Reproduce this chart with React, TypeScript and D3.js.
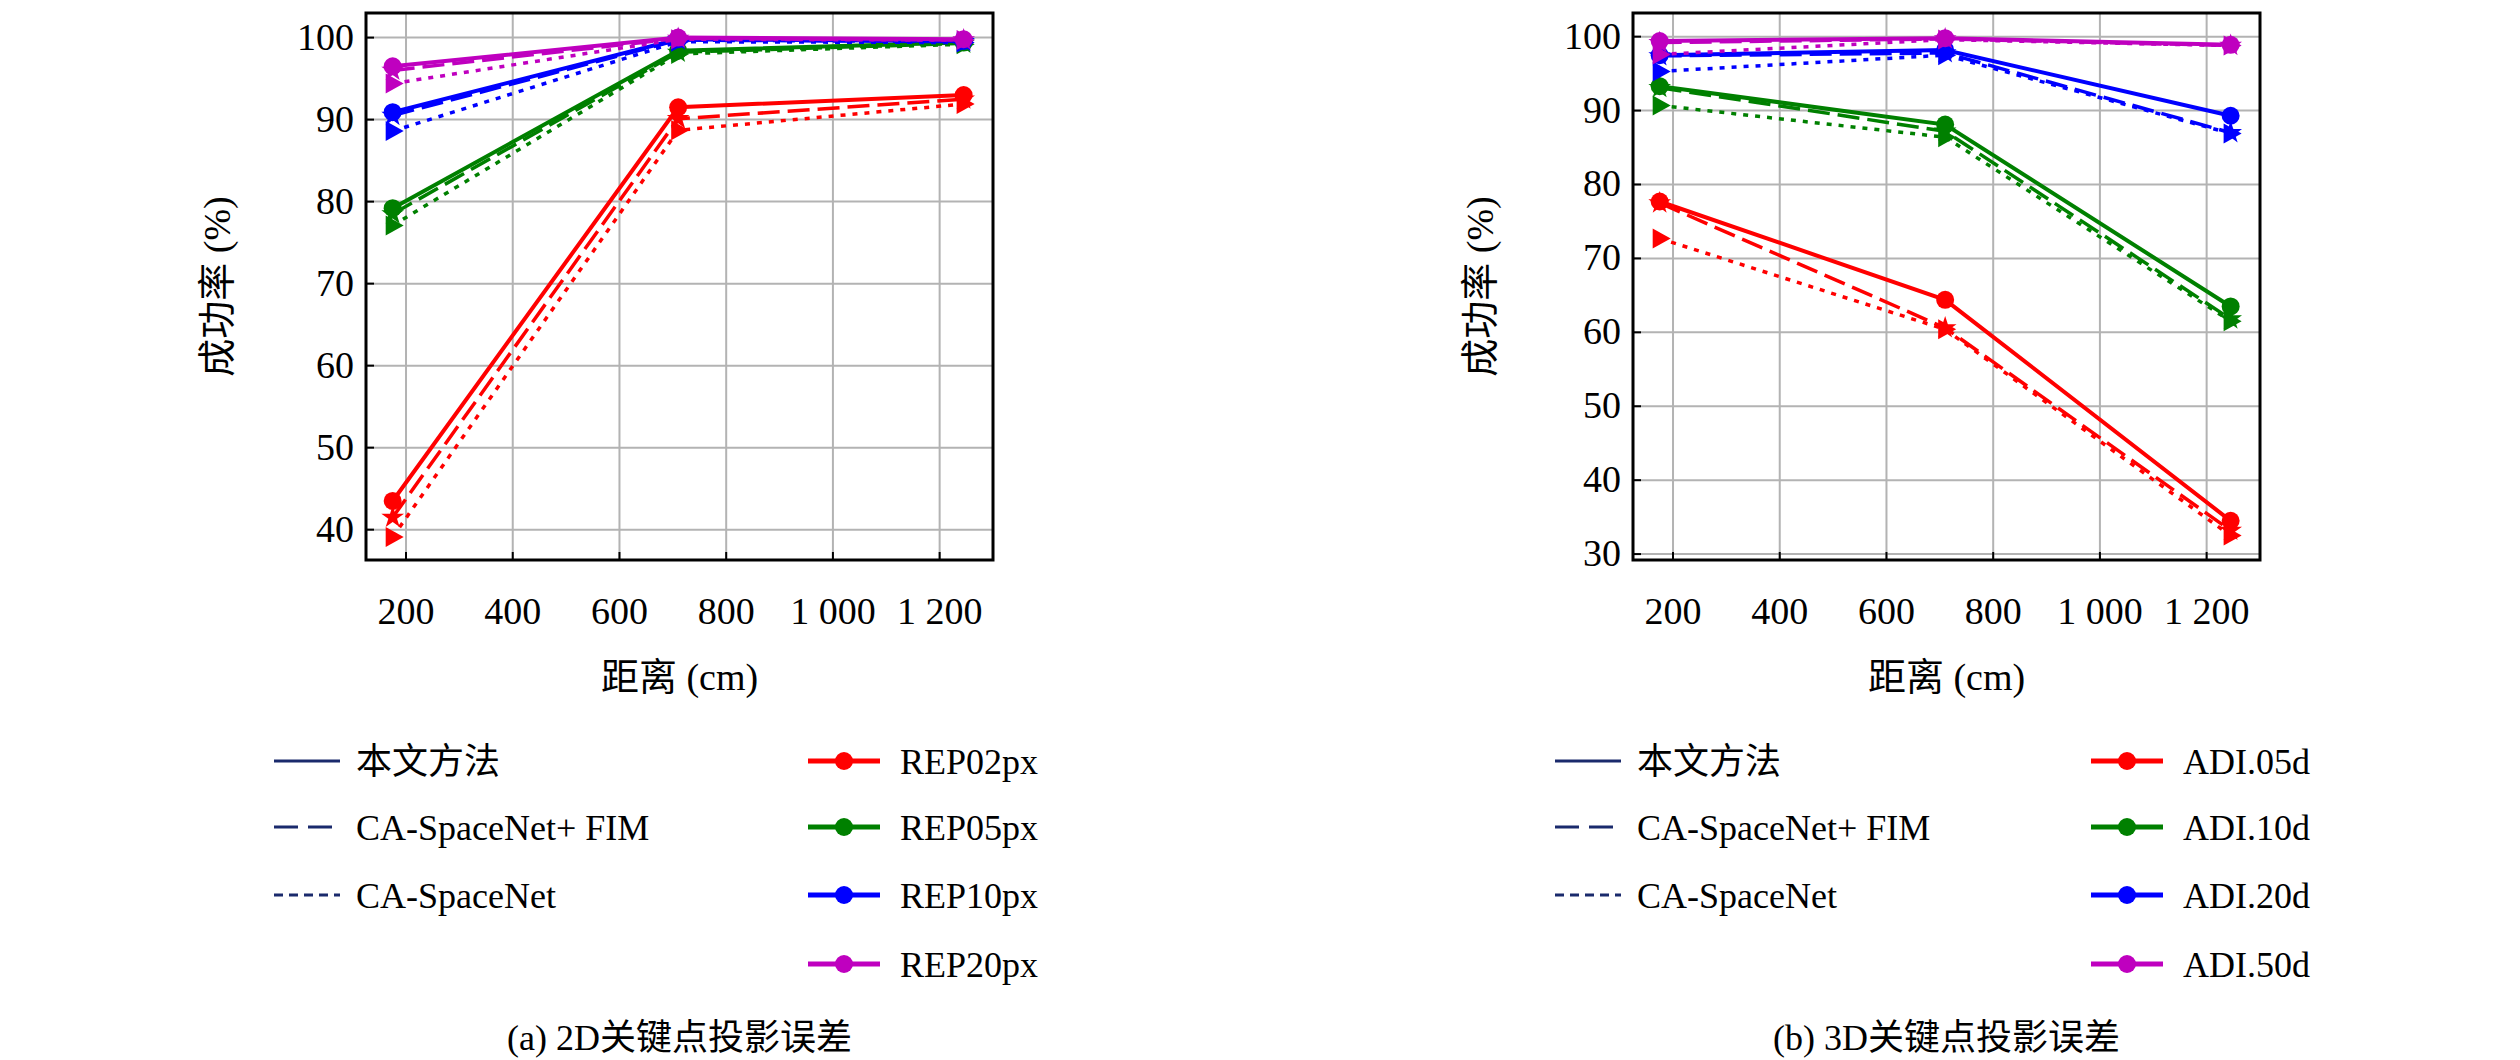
import * as d3 from "d3";

const distances = [175, 710, 1245];
const xTicks = [200, 400, 600, 800, 1000, 1200];

// left: 2D keypoint projection error
const rep02 = { solid: [43.5, 91.5, 93.0], dashed: [41.5, 90.1, 92.5], dotted: [39.1, 88.7, 91.9] };
const rep05 = { solid: [79.2, 98.4, 99.4], dashed: [78.5, 98.2, 99.3], dotted: [77.1, 98.0, 99.2] };
const rep10 = { solid: [90.9, 99.8, 99.6], dashed: [90.5, 99.7, 99.5], dotted: [88.6, 99.5, 99.4] };
const rep20 = { solid: [96.5, 100, 99.8], dashed: [96.0, 99.9, 99.7], dotted: [94.4, 99.8, 99.7] };

// right: 3D keypoint projection error
const adi05 = { solid: [77.7, 64.4, 34.5], dashed: [77.5, 60.6, 33.2], dotted: [72.7, 60.4, 32.5] };
const adi10 = { solid: [93.3, 88.1, 63.5], dashed: [93.1, 87.2, 61.8], dotted: [90.7, 86.4, 61.5] };
const adi20 = { solid: [97.5, 98.2, 89.3], dashed: [97.4, 97.8, 87.0], dotted: [95.3, 97.5, 86.9] };
const adi50 = { solid: [99.4, 99.8, 98.9], dashed: [99.2, 99.7, 98.8], dotted: [97.6, 99.6, 98.8] };

const methodNames = ["本文方法", "CA-SpaceNet+ FIM", "CA-SpaceNet"];
const colors = ["#ff0000", "#008000", "#0000ff", "#bf00bf"];

const FONT = "'Liberation Serif', 'Noto Sans CJK SC', serif";
const NAVY = "#1a2a6c";
const dashOf: Record<string, string> = { solid: "none", dashed: "22 8", dotted: "5 7" };
const starPath = d3.symbol().type(d3.symbolStar).size(160)() || "";

type Series = { solid: number[]; dashed: number[]; dotted: number[] };

function Panel(props: {
  left: number; right: number; top: number; bottom: number;
  yDomain: [number, number]; yTicks: number[];
  series: Series[]; names: string[]; caption: string; yLabelX: number;
  styleLegX: number; colorLegX: number;
}) {
  const { left, right, top, bottom, series, names } = props;
  const x = d3.scaleLinear().domain([125, 1300]).range([left, right]);
  const y = d3.scaleLinear().domain(props.yDomain).range([bottom, top]);
  const line = d3.line<number>().x((_, i) => x(distances[i])).y((d) => y(d));
  const styles: (keyof Series)[] = ["dotted", "dashed", "solid"];
  const cx = (left + right) / 2;
  const fmt = (v: number) => (v >= 1000 ? "1 " + String(v - 1000).padStart(3, "0") : String(v));
  const rows = [753, 819, 887, 956];
  const tri = (px: number, py: number) => `M${px - 7},${py - 10}L${px + 11},${py}L${px - 7},${py + 10}Z`;
  return (
    <g fontFamily={FONT}>
      {xTicks.map((t) => (
        <line key={"gx" + t} x1={x(t)} x2={x(t)} y1={top} y2={bottom} stroke="#b3b3b3" strokeWidth={2} />
      ))}
      {props.yTicks.map((t) => (
        <line key={"gy" + t} x1={left} x2={right} y1={y(t)} y2={y(t)} stroke="#b3b3b3" strokeWidth={2} />
      ))}
      {xTicks.map((t) => (
        <g key={"tx" + t}>
          <line x1={x(t)} x2={x(t)} y1={bottom} y2={bottom - 8} stroke="#000" strokeWidth={2} />
          <text x={x(t)} y={616} fontSize={38} textAnchor="middle">{fmt(t)}</text>
        </g>
      ))}
      {props.yTicks.map((t) => (
        <g key={"ty" + t}>
          <line x1={left} x2={left + 8} y1={y(t)} y2={y(t)} stroke="#000" strokeWidth={2} />
          <text x={left - 12} y={y(t) + 12} fontSize={38} textAnchor="end">{t}</text>
        </g>
      ))}
      {series.map((s, k) =>
        styles.map((st) => (
          <g key={k + st}>
            <path d={line(s[st]) || ""} fill="none" stroke={colors[k]} strokeWidth={st === "solid" ? 4 : 3.5}
              strokeDasharray={dashOf[st]} />
            {s[st].map((v, i) => {
              const px = x(distances[i]), py = y(v);
              if (st === "solid") return <circle key={i} cx={px} cy={py} r={9} fill={colors[k]} />;
              if (st === "dotted") return <path key={i} d={tri(px, py)} fill={colors[k]} />;
              return <path key={i} d={starPath} transform={`translate(${px},${py})`} fill={colors[k]} />;
            })}
          </g>
        ))
      )}
      <rect x={left} y={top} width={right - left} height={bottom - top} fill="none" stroke="#000" strokeWidth={3} />
      <text transform={`translate(${props.yLabelX},${(top + bottom) / 2}) rotate(-90)`} fontSize={38} textAnchor="middle">成功率 (%)</text>
      <text x={cx} y={682} fontSize={38} textAnchor="middle">距离 (cm)</text>
      {methodNames.map((m, i) => (
        <g key={m}>
          <line x1={props.styleLegX} x2={props.styleLegX + 66} y1={rows[i]} y2={rows[i]} stroke={NAVY} strokeWidth={3}
            strokeDasharray={["none", "24 10", "9 6"][i]} />
          <text x={props.styleLegX + 82} y={rows[i] + 13} fontSize={36}>{m}</text>
        </g>
      ))}
      {names.map((n, i) => (
        <g key={n}>
          <line x1={props.colorLegX} x2={props.colorLegX + 72} y1={rows[i]} y2={rows[i]} stroke={colors[i]} strokeWidth={5} />
          <circle cx={props.colorLegX + 36} cy={rows[i]} r={9} fill={colors[i]} />
          <text x={props.colorLegX + 92} y={rows[i] + 13} fontSize={36}>{n}</text>
        </g>
      ))}
      <text x={cx} y={1042} fontSize={36} textAnchor="middle">{props.caption}</text>
    </g>
  );
}

export default function App() {
  return (
    <svg width={2520} height={1060} style={{ display: "block", background: "#fff" }}>
      <Panel left={358} right={985} top={5} bottom={552} yDomain={[36.3, 103]} yTicks={[40, 50, 60, 70, 80, 90, 100]}
        series={[rep02, rep05, rep10, rep20]} names={["REP02px", "REP05px", "REP10px", "REP20px"]}
        caption="(a) 2D关键点投影误差" yLabelX={222} styleLegX={266} colorLegX={800} />
      <Panel left={1625} right={2252} top={5} bottom={552} yDomain={[29.2, 103.2]} yTicks={[30, 40, 50, 60, 70, 80, 90, 100]}
        series={[adi05, adi10, adi20, adi50]} names={["ADI.05d", "ADI.10d", "ADI.20d", "ADI.50d"]}
        caption="(b) 3D关键点投影误差" yLabelX={1485} styleLegX={1547} colorLegX={2083} />
    </svg>
  );
}
